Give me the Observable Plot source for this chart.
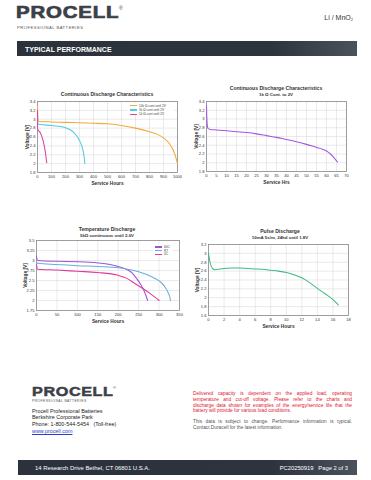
<!DOCTYPE html>
<html>
<head>
<meta charset="utf-8">
<script src="https://cdn.jsdelivr.net/npm/d3@7"></script>
<script src="https://cdn.jsdelivr.net/npm/@observablehq/plot@0.6"></script>
<style>
  html, body { margin:0; padding:0; background:#fff; }
  body { width:371px; height:480px; position:relative; overflow:hidden; font-family:"Liberation Sans", Arial, sans-serif; }
  .abs { position:absolute; white-space:nowrap; }
  .jl { position:absolute; white-space:nowrap; text-align:justify; text-align-last:justify; }
  svg text { font-family:"Liberation Sans", Arial, sans-serif; }
  g[aria-label="x-axis label"] text, g[aria-label="y-axis label"] text { font-weight:bold; font-size:4.8px; }
</style>
</head>
<body>
<script>
// ---------- DATA ----------
// Chart 1: Continuous Discharge Characteristics
const c1Series = ["10k Ω cont until 2V", "5k Ω cont until 2V", "1k Ω cont until 2V"];
const c1Colors = ["#f2a93b", "#4fcbe6", "#e23ea5"];
const c1Hours10k = [0, 3, 10, 100, 200, 300, 400, 500, 600, 700, 800, 850, 900, 940, 970, 990, 1000];
const c1Volt10k  = [3.3, 3.0, 2.95, 2.94, 2.93, 2.92, 2.91, 2.9, 2.86, 2.8, 2.72, 2.67, 2.58, 2.46, 2.3, 2.12, 2.0];
const c1Hours5k  = [0, 20, 100, 150, 200, 230, 260, 290, 310, 325, 333, 338];
const c1Volt5k   = [2.9, 2.88, 2.86, 2.84, 2.81, 2.77, 2.7, 2.58, 2.45, 2.3, 2.15, 2.0];
const c1Hours1k  = [0, 1, 5, 15, 30, 45, 55, 62, 66];
const c1Volt1k   = [3.2, 2.78, 2.75, 2.72, 2.62, 2.45, 2.28, 2.12, 2.02];
const c1XTicks = [0,100,200,300,400,500,600,700,800,900,1000];
const c1YTicks = [1.8,2,2.2,2.4,2.6,2.8,3,3.2,3.4];

// Chart 2: 1kΩ continuous
const c2Hours = [0, 0.3, 0.8, 2, 5, 10, 15, 20, 25, 30, 35, 40, 45, 50, 55, 58, 60, 62, 64, 65.5];
const c2Volt  = [3.3, 2.9, 2.78, 2.76, 2.75, 2.73, 2.71, 2.69, 2.66, 2.62, 2.58, 2.53, 2.48, 2.42, 2.35, 2.31, 2.27, 2.2, 2.1, 2.02];
const c2XTicks = [0,5,10,15,20,25,30,35,40,45,50,55,60,65,70];
const c2YTicks = [1.8,2,2.2,2.4,2.6,2.8,3,3.2,3.4];

// Chart 3: Temperature Discharge
const c3Series = ["60C", "RT", "0C"];
const c3Colors = ["#9b55d6", "#6aaedc", "#e6389c"];
const c3Hours60 = [0, 3, 50, 100, 150, 180, 200, 220, 235, 245, 255, 263, 268, 272];
const c3Volt60  = [3.1, 3.0, 2.98, 2.97, 2.94, 2.9, 2.85, 2.78, 2.68, 2.55, 2.4, 2.25, 2.12, 2.0];
const c3HoursRT = [0, 3, 50, 100, 150, 200, 230, 250, 270, 290, 305, 315, 322, 326, 328];
const c3VoltRT  = [2.96, 2.93, 2.9, 2.87, 2.85, 2.82, 2.77, 2.72, 2.65, 2.55, 2.45, 2.33, 2.2, 2.1, 2.0];
const c3Hours0  = [0, 3, 50, 100, 150, 200, 220, 240, 260, 280, 300];
const c3Volt0   = [2.9, 2.78, 2.76, 2.73, 2.7, 2.63, 2.56, 2.43, 2.3, 2.16, 2.0];
const c3XTicks = [0,50,100,150,200,250,300,350];
const c3YTicks = [1.75,2,2.25,2.5,2.75,3,3.25,3.5];

// Chart 4: Pulse Discharge
const c4Hours = [0, 0.2, 0.5, 0.8, 1.2, 2, 3, 4, 5, 6, 7, 8, 9, 10, 11, 12, 13, 14, 15, 16, 16.7];
const c4Volt  = [3.0, 2.8, 2.66, 2.63, 2.64, 2.66, 2.67, 2.67, 2.66, 2.65, 2.64, 2.62, 2.6, 2.57, 2.52, 2.45, 2.34, 2.21, 2.09, 1.96, 1.84];
const c4XTicks = [0,2,4,6,8,10,12,14,16,18];
const c4YTicks = [1.6,1.8,2,2.2,2.4,2.6,2.8,3,3.2];

// Footer text
const redLines = [
  "Delivered capacity is dependent on the applied load, operating",
  "temperature and cut-off voltage. Please refer to the charts and",
  "discharge data shown for examples of the energy/service life that the",
  "battery will provide for various load conditions."
];
const grayLines = [
  "This data is subject to change. Performance information is typical.",
  "Contact Duracell for the latest information."
];

// ---------- HELPERS ----------
const zip = (xs, ys, s) => xs.map((x, i) => ({x, y: ys[i], s}));
const fmt = d => String(+d.toFixed(2));

function place(html, x, y, style = "", anchor = "left", extra = "") {
  const d = document.createElement("div");
  d.className = "abs";
  d.innerHTML = html;
  d.style.cssText += `left:${x}px;top:${y}px;` + style;
  const tx = anchor === "center" ? "-50%" : anchor === "right" ? "-100%" : "0";
  d.style.transform = `translate(${tx},-50%) ${extra}`;
  document.body.appendChild(d);
  return d;
}

function chart({left, top, width, height, mL, mR, mT, mB, xDom, yDom, xT, yT, xLabel, data, colors, domain, xLabelOff, yLabelOff}) {
  const svg = Plot.plot({
    width, height,
    marginLeft: mL, marginRight: mR, marginTop: mT, marginBottom: mB,
    style: {fontSize: "4.1px", color: "#333", background: "transparent", overflow: "visible"},
    x: {domain: xDom, ticks: xT, tickFormat: fmt, label: xLabel, labelAnchor: "center", labelOffset: xLabelOff, labelArrow: "none", tickSize: 0, tickPadding: 2.5},
    y: {domain: yDom, ticks: yT, tickFormat: fmt, label: "Voltage [V]", labelAnchor: "center", labelOffset: yLabelOff, labelArrow: "none", tickSize: 0, tickPadding: 2},
    color: {domain, range: colors},
    marks: [
      Plot.gridX(xT, {stroke: "#dcdcdc", strokeOpacity: 1, strokeWidth: 0.6}),
      Plot.gridY(yT, {stroke: "#dcdcdc", strokeOpacity: 1, strokeWidth: 0.6}),
      Plot.frame({stroke: "#8a8a8a", strokeWidth: 0.8}),
      Plot.line(data, {x: "x", y: "y", z: "s", stroke: "s", strokeWidth: 1.05, curve: "monotone-x"})
    ]
  });
  svg.style.position = "absolute";
  svg.style.left = left + "px";
  svg.style.top = top + "px";
  document.body.appendChild(svg);
}

function legend(x, y, items, colors, dy, boxW, boxH) {
  const box = document.createElement("div");
  box.className = "abs";
  box.style.cssText = `left:${x - 2}px;top:${y - 3}px;width:${boxW}px;height:${boxH}px;background:#fff;`;
  document.body.appendChild(box);
  items.forEach((t, i) => {
    const l = document.createElement("div");
    l.className = "abs";
    l.style.cssText = `left:${x}px;top:${y + i * dy - 0.6}px;width:7px;height:1.3px;background:${colors[i]};`;
    document.body.appendChild(l);
    place(t, x + 9, y + i * dy, "font-size:3.2px;color:#444;");
  });
}

function lines(arr, x, y, w, lh, style, justifyLast) {
  arr.forEach((t, i) => {
    const d = document.createElement("div");
    d.className = (i < arr.length - 1 || justifyLast) ? "jl" : "abs";
    d.style.cssText = `left:${x}px;top:${y + i * lh}px;width:${w}px;transform:translate(0,-50%);` + style;
    d.textContent = t;
    document.body.appendChild(d);
  });
}

// ---------- HEADER ----------
place("PROCELL", 16, 13, "font-size:17px;font-weight:bold;color:#3b4047;letter-spacing:0.7px;-webkit-text-stroke:0.7px #3b4047;transform-origin:left center;", "left", "scaleX(1.2)");
place("®", 119, 8, "font-size:5px;color:#3b4047;");
place("PROFESSIONAL BATTERIES", 17, 26.5, "font-size:4.2px;color:#555;letter-spacing:0.45px;");
place("Li / MnO<sub style='font-size:4px;vertical-align:-1px'>2</sub>", 353, 18, "font-size:7px;color:#333;", "right");

const bar = document.createElement("div");
bar.className = "abs";
bar.style.cssText = "left:17px;top:41px;width:340px;height:14.5px;background:linear-gradient(90deg,#2b323b 0%,#2d343d 75%,#4a525c 100%);";
document.body.appendChild(bar);
place("TYPICAL PERFORMANCE", 25, 48.5, "font-size:7px;font-weight:bold;color:#fff;");

// ---------- CHART 1 ----------
place("Continuous Discharge Characteristics", 107, 94, "font-size:5.1px;font-weight:bold;color:#333;", "center");
chart({left: 12, top: 97, width: 172, height: 90, mL: 25, mR: 7, mT: 4, mB: 15,
  xDom: [0, 1000], yDom: [1.8, 3.4], xT: c1XTicks, yT: c1YTicks, xLabel: "Service Hours",
  data: [...zip(c1Hours10k, c1Volt10k, c1Series[0]), ...zip(c1Hours5k, c1Volt5k, c1Series[1]), ...zip(c1Hours1k, c1Volt1k, c1Series[2])],
  colors: c1Colors, domain: c1Series, xLabelOff: 12, yLabelOff: 12});
legend(130, 105.7, c1Series, c1Colors, 4.3, 46, 12);

// ---------- CHART 2 ----------
place("Continuous Discharge Characteristics", 276, 88, "font-size:5.1px;font-weight:bold;color:#333;", "center");
place("1k Ω Cont. to 2V", 276, 94, "font-size:4.4px;font-weight:bold;color:#333;", "center");
chart({left: 186, top: 97, width: 166, height: 90, mL: 20, mR: 6, mT: 4, mB: 16,
  xDom: [0, 70], yDom: [1.8, 3.4], xT: c2XTicks, yT: c2YTicks, xLabel: "Service Hrs",
  data: zip(c2Hours, c2Volt, "1k"), colors: ["#a257e0"], domain: ["1k"], xLabelOff: 12, yLabelOff: 12});

// ---------- CHART 3 ----------
place("Temperature Discharge", 107, 229, "font-size:5.1px;font-weight:bold;color:#333;", "center");
place("5kΩ continuous until 2.0V", 107, 234.5, "font-size:4.4px;font-weight:bold;color:#333;", "center");
chart({left: 12, top: 236, width: 172, height: 90, mL: 24, mR: 5, mT: 4, mB: 16,
  xDom: [0, 350], yDom: [1.75, 3.5], xT: c3XTicks, yT: c3YTicks, xLabel: "Service Hours",
  data: [...zip(c3Hours60, c3Volt60, c3Series[0]), ...zip(c3HoursRT, c3VoltRT, c3Series[1]), ...zip(c3Hours0, c3Volt0, c3Series[2])],
  colors: c3Colors, domain: c3Series, xLabelOff: 12, yLabelOff: 13});
legend(155, 247, c3Series, c3Colors, 3.6, 20, 11);

// ---------- CHART 4 ----------
place("Pulse Discharge", 280, 231, "font-size:5.1px;font-weight:bold;color:#333;", "center");
place("10mA 5s/m, 24hd until 1.8V", 280, 236.5, "font-size:4.4px;font-weight:bold;color:#333;", "center");
chart({left: 186, top: 240, width: 166, height: 91, mL: 22, mR: 4, mT: 4, mB: 16,
  xDom: [0, 18], yDom: [1.6, 3.2], xT: c4XTicks, yT: c4YTicks, xLabel: "Service Hours",
  data: zip(c4Hours, c4Volt, "pulse"), colors: ["#3dbb83"], domain: ["pulse"], xLabelOff: 12, yLabelOff: 13});

// ---------- FOOTER ----------
place("PROCELL", 32, 391, "font-size:13.5px;font-weight:bold;color:#3b4047;letter-spacing:0.5px;-webkit-text-stroke:0.5px #3b4047;transform-origin:left center;", "left", "scaleX(1.2)");
place("®", 113, 387, "font-size:4px;color:#3b4047;");
place("PROFESSIONAL BATTERIES", 32, 401, "font-size:3.4px;color:#555;letter-spacing:0.4px;");
const addr = document.createElement("div");
addr.className = "abs";
addr.style.cssText = "left:32px;top:407.5px;font-size:5.4px;line-height:6.8px;color:#222;";
addr.innerHTML = "Procell Professional Batteries<br>Berkshire Corporate Park<br>Phone: 1-800-544-5454&nbsp;&nbsp;&nbsp;(Toll-free)<br><span style='color:#2a3fd0;text-decoration:underline'>www.procell.com</span>";
document.body.appendChild(addr);

lines(redLines, 193, 393.3, 159, 5.65, "font-size:4.8px;color:#e3132d;", false);
lines(grayLines, 193, 420.8, 159, 6, "font-size:4.8px;color:#555;", false);

const bbar = document.createElement("div");
bbar.className = "abs";
bbar.style.cssText = "left:18px;top:460px;width:339px;height:15px;background:linear-gradient(90deg,#2b323b 0%,#2d343d 75%,#4a525c 100%);";
document.body.appendChild(bbar);
place("14 Research Drive Bethel, CT 06801 U.S.A.", 35, 468, "font-size:5.9px;color:#fff;");
place("PC20250919&nbsp;&nbsp;&nbsp;Page 2 of 3", 348, 468, "font-size:5.8px;color:#fff;", "right");
</script>
</body>
</html>
